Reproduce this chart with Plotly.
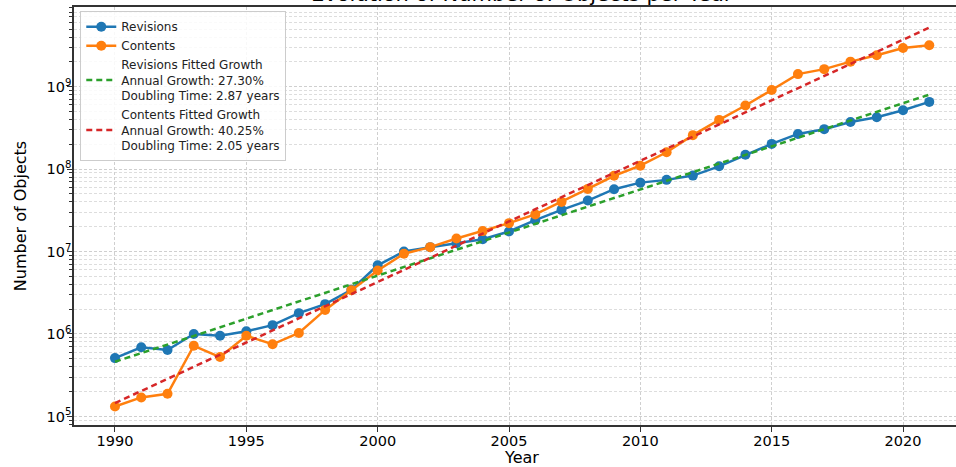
import plotly.graph_objects as go

# ---- data ----
years = list(range(1990, 2022))
revisions = [5.1e5, 6.9e5, 6.4e5, 1.0e6, 9.5e5, 1.08e6, 1.28e6, 1.79e6,
             2.3e6, 3.44e6, 6.8e6, 1.0e7, 1.13e7, 1.26e7, 1.41e7, 1.75e7, 2.4e7,
             3.2e7, 4.15e7, 5.7e7, 6.85e7, 7.4e7, 8.34e7, 1.08e8, 1.49e8,
             2.02e8, 2.67e8, 3.05e8, 3.73e8, 4.26e8, 5.18e8, 6.53e8]
contents = [1.32e5, 1.70e5, 1.88e5, 7.2e5, 5.25e5, 9.5e5, 7.5e5, 1.03e6,
            1.96e6, 3.4e6, 5.9e6, 9.4e6, 1.13e7, 1.44e7, 1.77e7, 2.21e7, 2.82e7,
            4.0e7, 5.75e7, 8.3e7, 1.1e8, 1.6e8, 2.58e8, 3.95e8, 5.9e8,
            9.1e8, 1.42e9, 1.63e9, 2.01e9, 2.40e9, 2.94e9, 3.18e9]
fit_years = [1990, 2021]
revisions_fit = [4.6e5, 8.0e8]
contents_fit = [1.45e5, 5.2e9]

rev_fit_name = "Revisions Fitted Growth<br>Annual Growth: 27.30%<br>Doubling Time: 2.87 years"
cont_fit_name = "Contents Fitted Growth<br>Annual Growth: 40.25%<br>Doubling Time: 2.05 years"

y_tickvals = [1e5, 1e6, 1e7, 1e8, 1e9]
y_ticktext = ["10<sup>5</sup>", "10<sup>6</sup>", "10<sup>7</sup>", "10<sup>8</sup>", "10<sup>9</sup>"]
x_tickvals = [1990, 1995, 2000, 2005, 2010, 2015, 2020]

FONT = "DejaVu Sans"
minor_vals = [m * 10 ** e for e in range(4, 10) for m in range(2, 10)]

fig = go.Figure()
fig.add_trace(go.Scatter(x=years, y=revisions, mode="lines+markers", name="Revisions",
                         line=dict(color="#1f77b4", width=2.5),
                         marker=dict(color="#1f77b4", size=10)))
fig.add_trace(go.Scatter(x=years, y=contents, mode="lines+markers", name="Contents",
                         line=dict(color="#ff7f0e", width=2.5),
                         marker=dict(color="#ff7f0e", size=10)))
fig.add_trace(go.Scatter(x=fit_years, y=revisions_fit, mode="lines", name=rev_fit_name,
                         line=dict(color="#2ca02c", width=2.5, dash="6px,4px")))
fig.add_trace(go.Scatter(x=fit_years, y=contents_fit, mode="lines", name=cont_fit_name,
                         line=dict(color="#d62728", width=2.5, dash="6px,4px")))

grid_dash = "3px,2px"
# The reference is a crop of a wider figure: the plot area runs past the right edge.
fig.update_layout(
    width=970, height=467,
    margin=dict(l=74, r=0, t=7, b=42, autoexpand=False),
    paper_bgcolor="white", plot_bgcolor="white",
    font=dict(family=FONT, color="black"),
    showlegend=True,
    legend=dict(x=0.007, y=0.99, xanchor="left", yanchor="top",
                bgcolor="rgba(255,255,255,0.85)", bordercolor="#cccccc", borderwidth=1,
                font=dict(family=FONT, size=12, color="#222"),
                tracegroupgap=0, itemwidth=30),
    xaxis=dict(range=[1988.44, 2022.55], tickvals=x_tickvals,
               showline=True, linecolor="#333", linewidth=1.5, mirror=True,
               ticks="outside", ticklen=5, tickcolor="#333", ticklabelstandoff=-3,
               showgrid=True, gridcolor="#cfcfcf", gridwidth=1, griddash=grid_dash,
               zeroline=False, tickfont=dict(size=14.5, family=FONT),
               title=dict(text="Year", font=dict(size=16, family=FONT), standoff=11)),
    yaxis=dict(type="log", range=[4.896, 9.966], tickvals=y_tickvals, ticktext=y_ticktext,
               showline=True, linecolor="#333", linewidth=1.5, mirror=True,
               ticks="outside", ticklen=5, tickcolor="#333", ticklabelstandoff=-7,
               showgrid=True, gridcolor="#cfcfcf", gridwidth=1, griddash=grid_dash,
               zeroline=False, tickfont=dict(size=14.5, family=FONT),
               minor=dict(tickvals=minor_vals, ticks="outside", ticklen=3, tickcolor="#333",
                          showgrid=True, gridcolor="#dddddd", gridwidth=1, griddash=grid_dash),
               title=dict(text="Number of Objects", font=dict(size=16, family=FONT), standoff=16)),
    annotations=[dict(text="Evolution of Number of Objects per Year", xref="paper", yref="paper",
                      x=0.5, y=1.03, xanchor="center", yanchor="middle", showarrow=False,
                      font=dict(size=21, family=FONT, color="black"))],
)

fig.write_html("out.html", config={"displayModeBar": False},
               post_script=("document.body.style.margin='0';document.body.style.padding='0';"
                            "document.body.style.overflow='hidden';"
                            "document.documentElement.style.overflow='hidden';"))
